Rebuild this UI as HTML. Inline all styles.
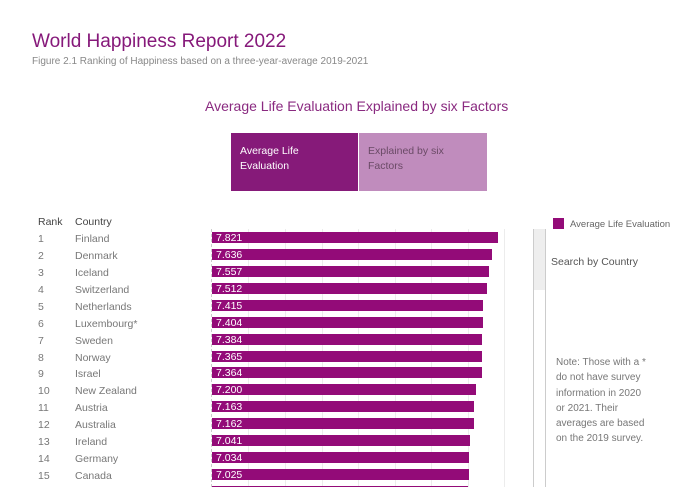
<!DOCTYPE html>
<html style="overflow:hidden;height:487px"><head><style>
body{margin:0;width:693px;height:487px;overflow:hidden;background:#fff;font-family:"Liberation Sans","DejaVu Sans",sans-serif;position:relative}
.a{position:absolute;white-space:nowrap}
.g{position:absolute;top:229px;height:258px;width:1px;background:#ececec}
.r{position:absolute;font-size:10.5px;color:#777;line-height:12px}
.bar{position:absolute;left:212px;height:11px;background:#930b78}
.bar span{color:#fff;font-size:10.5px;position:absolute;left:4px;top:0px;line-height:12px}
</style></head><body>
<div class="a" style="left:32px;top:31px;font-size:19px;color:#86197a">World Happiness Report 2022</div>
<div class="a" style="left:32px;top:56px;font-size:10px;color:#888">Figure 2.1 Ranking of Happiness based on a three-year-average 2019-2021</div>
<div class="a" style="left:205px;top:98px;font-size:14px;color:#8a2a80">Average Life Evaluation Explained by six Factors</div>
<div class="a" style="left:231px;top:133px;width:127px;height:58px;background:#861a79"></div>
<div class="a" style="left:359px;top:133px;width:128px;height:58px;background:#c08cbd"></div>
<div class="a" style="left:240px;top:144px;font-size:10.5px;color:#fff;line-height:15px">Average Life<br>Evaluation</div>
<div class="a" style="left:368px;top:144px;font-size:10.5px;color:#6a4a66;line-height:15px">Explained by six<br>Factors</div>
<div class="a" style="left:38px;top:216px;font-size:10.5px;color:#444">Rank</div>
<div class="a" style="left:75px;top:216px;font-size:10.5px;color:#444">Country</div>
<div class="g" style="left:248px"></div><div class="g" style="left:285px"></div><div class="g" style="left:322px"></div><div class="g" style="left:358px"></div><div class="g" style="left:395px"></div><div class="g" style="left:431px"></div><div class="g" style="left:468px"></div><div class="g" style="left:504px"></div>
<div class="a" style="left:211px;top:229px;height:258px;border-left:1px dashed #ccc"></div>
<div id="rows"></div>
<div class="a" style="left:533px;top:229px;width:13px;height:258px;border-left:1px solid #ccc;border-right:1px solid #ccc;box-sizing:border-box"></div>
<div class="a" style="left:534px;top:229px;width:11px;height:61px;background:#eee"></div>
<div class="a" style="left:553px;top:218px;width:11px;height:11px;background:#930b78"></div>
<div class="a" style="left:570px;top:219px;font-size:9.5px;color:#666">Average Life Evaluation</div>
<div class="a" style="left:551px;top:256px;font-size:10.5px;color:#555">Search by Country</div>
<div class="a" style="left:556px;top:355px;font-size:10px;color:#777;line-height:15.3px">Note: Those with a *<br>do not have survey<br>information in 2020<br>or 2021. Their<br>averages are based<br>on the 2019 survey.</div>
<script>
var d=[["Finland",7.821],["Denmark",7.636],["Iceland",7.557],["Switzerland",7.512],["Netherlands",7.415],["Luxembourg*",7.404],["Sweden",7.384],["Norway",7.365],["Israel",7.364],["New Zealand",7.2],["Austria",7.163],["Australia",7.162],["Ireland",7.041],["Germany",7.034],["Canada",7.025],["",7.0]];
var h="";d.forEach(function(r,i){var y=232+i*16.93;
if(r[0]){h+='<div class="r" style="left:38px;top:'+(y+1)+'px">'+(i+1)+'</div><div class="r" style="left:75px;top:'+(y+1)+'px">'+r[0]+'</div>';}
h+='<div class="bar" style="top:'+y+'px;width:'+(r[1]*36.6).toFixed(1)+'px"><span>'+(r[0]?r[1].toFixed(3):'')+'</span></div>';});
document.getElementById("rows").innerHTML=h;
</script>
</body></html>
